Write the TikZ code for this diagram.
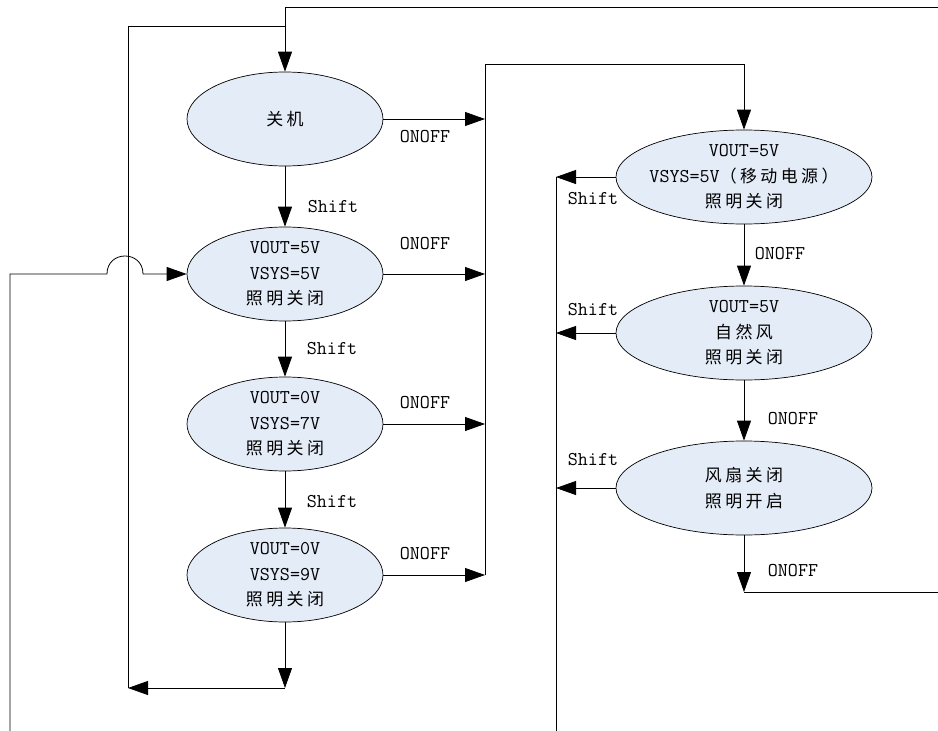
\documentclass[tikz,border=0pt]{standalone}
\usepackage{fontspec}
\newfontfamily\cjk[LetterSpace=20,Scale=0.87]{Noto Sans CJK SC}
\usetikzlibrary{arrows.meta,shapes.geometric}
\definecolor{stfill}{RGB}{228,236,247}
\begin{document}
\begin{tikzpicture}[x=1pt,y=-1pt,
  line width=0.8pt,
  st/.style={ellipse,draw=black,line width=0.7pt,fill=stfill,inner sep=0pt,minimum width=196pt,minimum height=94pt},
  stw/.style={st,minimum width=256pt},
  txt/.style={align=center,inner sep=0pt,font=\fontsize{19.5}{25.5}\selectfont\ttfamily},
  lbl/.style={inner sep=0pt,font=\fontsize{19.5}{22}\selectfont\ttfamily},
  arr/.style={-{Triangle[length=20pt,width=14pt]}}]
\useasboundingbox (0,0) rectangle (938,731);
% left column states
\node[st] (s0) at (285,119) {};
\node[txt] (s0t) at (s0) {{\cjk 关机}};
\node[st] (s1) at (285,274) {};
\node[txt] (s1t) at (s1) {VOUT=5V\\VSYS=5V\\{\cjk 照明关闭}};
\node[st] (s2) at (285,424) {};
\node[txt] (s2t) at (s2) {VOUT=0V\\VSYS=7V\\{\cjk 照明关闭}};
\node[st] (s3) at (285,575) {};
\node[txt] (s3t) at (s3) {VOUT=0V\\VSYS=9V\\{\cjk 照明关闭}};
% right column states
\node[stw] (r0) at (744,177) {};
\node[txt] (r0t) at (r0) {VOUT=5V\\VSYS=5V{\cjk（移动电源）}\\{\cjk 照明关闭}};
\node[stw] (r1) at (744,333) {};
\node[txt] (r1t) at (r1) {VOUT=5V\\{\cjk 自然风}\\{\cjk 照明关闭}};
\node[stw] (r2) at (744,488) {};
\node[txt] (r2t) at (r2) {{\cjk 风扇关闭}\\{\cjk 照明开启}};
% helper coordinates
\coordinate (topR) at (938,7);
\coordinate (topM) at (285,7);
\coordinate (loopT) at (128,26);
\coordinate (loopM) at (285,26);
\coordinate (loopB) at (128,688);
\coordinate (s3end) at (285,688);
\coordinate (busT) at (485,64);
\coordinate (rbusT) at (556,177);
\coordinate (rbusB) at (556,731);
\coordinate (r2end) at (744,592);
\coordinate (rEdge) at (938,592);
\coordinate (farB) at (10,731);
\coordinate (farT) at (10,274);
\coordinate (hopL) at (107,274);
\coordinate (hopR) at (143,274);
% left column connectors
\draw[arr] (topR) -- (topM) -- (s0.north);
\draw (loopT) -- (loopM);
\draw[arr] (s0.south) -- (s1.north);
\draw[arr] (s1.south) -- (s2.north);
\draw[arr] (s2.south) -- (s3.north);
\draw[arr] (s3.south) -- (s3end);
\draw[arr] (s3end) -- (loopB);
\draw (loopB) -- (loopT);
% ONOFF bus
\draw[arr] (s0.east) -- (s0.east -| busT);
\draw[arr] (s1.east) -- (s1.east -| busT);
\draw[arr] (s2.east) -- (s2.east -| busT);
\draw[arr] (s3.east) -- (s3.east -| busT);
\draw[arr] (s3.east -| busT) -- (busT) -| (r0.north);
% right column
\draw[arr] (r0.south) -- (r1.north);
\draw[arr] (r1.south) -- (r2.north);
\draw[arr] (r2.south) -- (r2end);
\draw (r2end) -- (rEdge);
\draw[arr] (r0.west) -- (r0.west -| rbusT);
\draw[arr] (r1.west) -- (r1.west -| rbusT);
\draw[arr] (r2.west) -- (r2.west -| rbusT);
\draw (rbusT) -- (rbusB);
% far left return with hop
\draw[arr] (farB) -- (farT) -- (hopL) .. controls (107,250) and (143,250) .. (hopR) -- (s1.west);
% labels
\node[lbl] (l0) at (333,207) {Shift};
\node[lbl] (l1) at (332,349) {Shift};
\node[lbl] (l2) at (332,502) {Shift};
\node[lbl] (o0) at (425,137) {ONOFF};
\node[lbl] (o1) at (425,244) {ONOFF};
\node[lbl] (o2) at (425,403) {ONOFF};
\node[lbl] (o3) at (425,554) {ONOFF};
\node[lbl] (ls0) at (593,199) {Shift};
\node[lbl] (ls1) at (593,310) {Shift};
\node[lbl] (ls2) at (593,460) {Shift};
\node[lbl] (or0) at (780,254) {ONOFF};
\node[lbl] (or1) at (793,419) {ONOFF};
\node[lbl] (or2) at (793,571) {ONOFF};
\end{tikzpicture}
\end{document}
